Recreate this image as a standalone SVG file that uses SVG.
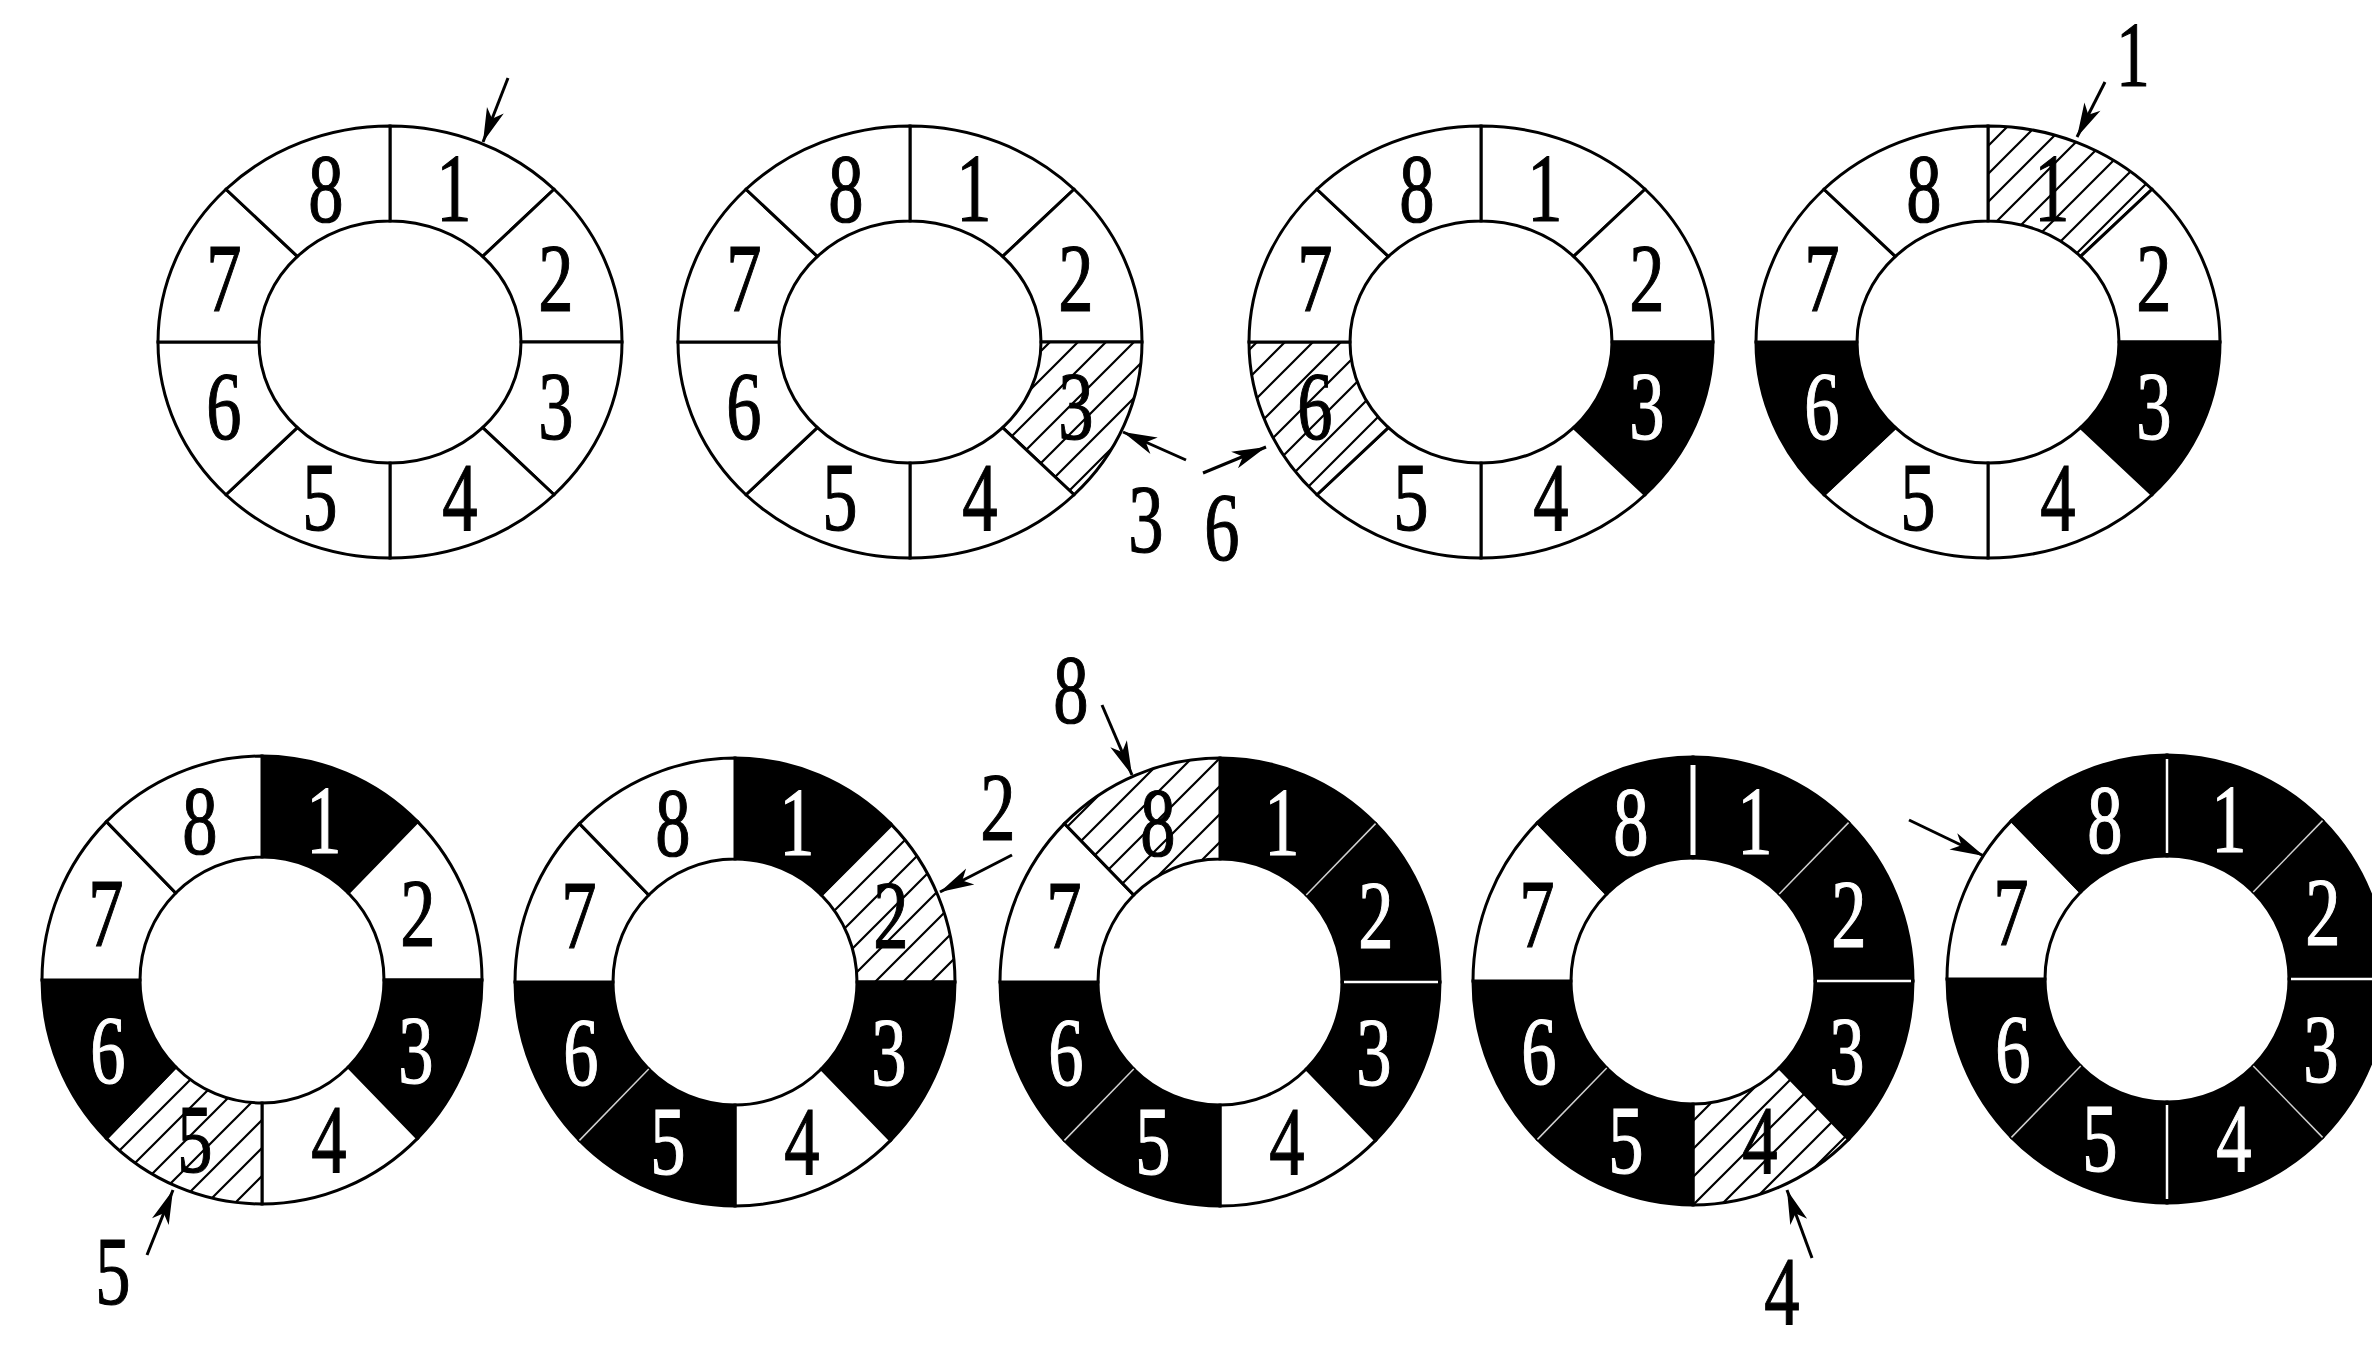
<svg xmlns="http://www.w3.org/2000/svg" xmlns:xlink="http://www.w3.org/1999/xlink" width="2372" height="1354" viewBox="0 0 2372 1354">
<style>
.w{fill:#fff;stroke:#000;stroke-width:3}
.k{fill:#000;stroke:#000;stroke-width:3}
.h{fill:url(#hatch);stroke:#000;stroke-width:3}
.d{font-family:"Liberation Serif","Times New Roman",serif;font-size:98px;text-anchor:middle;fill:#000;stroke:#000;stroke-width:1.2}
.dw{fill:#fff;stroke:#fff}
.sep{stroke:#fff;stroke-width:2.5}
.sepf{stroke:#d0d0d0;stroke-width:1.5}
.con{stroke:#000;stroke-width:3;fill:none;marker-end:url(#ah)}
</style>
<defs>
<pattern id="hatch" patternUnits="userSpaceOnUse" width="28" height="28">
<rect width="28" height="28" fill="#fff"/>
<path d="M-7,7 L7,-7 M0,28 L28,0 M21,35 L35,21" stroke="#000" stroke-width="2.2"/>
</pattern>
<marker id="ah" markerUnits="userSpaceOnUse" markerWidth="40" markerHeight="24" viewBox="0 0 40 24" refX="38" refY="12" orient="auto">
<path d="M38,12 L4,3 L13,12 L4,21 Z" fill="#000"/>
</marker>
<path id="t1" d="M0,-216 A232,216 0 0 1 164.05,-152.74 L92.63,-85.56 A131,121 0 0 0 0,-121 Z"/>
<path id="t2" d="M164.05,-152.74 A232,216 0 0 1 232,0 L131,0 A131,121 0 0 0 92.63,-85.56 Z"/>
<path id="t3" d="M232,0 A232,216 0 0 1 164.05,152.74 L92.63,85.56 A131,121 0 0 0 131,0 Z"/>
<path id="t4" d="M164.05,152.74 A232,216 0 0 1 0,216 L0,121 A131,121 0 0 0 92.63,85.56 Z"/>
<path id="t5" d="M0,216 A232,216 0 0 1 -164.05,152.74 L-92.63,85.56 A131,121 0 0 0 0,121 Z"/>
<path id="t6" d="M-164.05,152.74 A232,216 0 0 1 -232,0 L-131,0 A131,121 0 0 0 -92.63,85.56 Z"/>
<path id="t7" d="M-232,0 A232,216 0 0 1 -164.05,-152.74 L-92.63,-85.56 A131,121 0 0 0 -131,0 Z"/>
<path id="t8" d="M-164.05,-152.74 A232,216 0 0 1 0,-216 L0,-121 A131,121 0 0 0 -92.63,-85.56 Z"/>
<path id="b1" d="M0,-224 A220,224 0 0 1 155.56,-158.39 L86.27,-86.97 A122,123 0 0 0 0,-123 Z"/>
<path id="b2" d="M155.56,-158.39 A220,224 0 0 1 220,0 L122,0 A122,123 0 0 0 86.27,-86.97 Z"/>
<path id="b3" d="M220,0 A220,224 0 0 1 155.56,158.39 L86.27,86.97 A122,123 0 0 0 122,0 Z"/>
<path id="b4" d="M155.56,158.39 A220,224 0 0 1 0,224 L0,123 A122,123 0 0 0 86.27,86.97 Z"/>
<path id="b5" d="M0,224 A220,224 0 0 1 -155.56,158.39 L-86.27,86.97 A122,123 0 0 0 0,123 Z"/>
<path id="b6" d="M-155.56,158.39 A220,224 0 0 1 -220,0 L-122,0 A122,123 0 0 0 -86.27,86.97 Z"/>
<path id="b7" d="M-220,0 A220,224 0 0 1 -155.56,-158.39 L-86.27,-86.97 A122,123 0 0 0 -122,0 Z"/>
<path id="b8" d="M-155.56,-158.39 A220,224 0 0 1 0,-224 L0,-123 A122,123 0 0 0 -86.27,-86.97 Z"/>
</defs>
<rect width="2372" height="1354" fill="#fff"/>

<g id="ring1" transform="translate(390,342)">
<use href="#t1" class="w"/><use href="#t2" class="w"/><use href="#t3" class="w"/><use href="#t4" class="w"/>
<use href="#t5" class="w"/><use href="#t6" class="w"/><use href="#t7" class="w"/><use href="#t8" class="w"/>
<text class="d" transform="translate(64,-121) scale(0.72,1)">1</text>
<text class="d" transform="translate(166,-31) scale(0.72,1)">2</text>
<text class="d" transform="translate(166,97) scale(0.72,1)">3</text>
<text class="d" transform="translate(70,188) scale(0.72,1)">4</text>
<text class="d" transform="translate(-70,188) scale(0.72,1)">5</text>
<text class="d" transform="translate(-166,97) scale(0.72,1)">6</text>
<text class="d" transform="translate(-166,-31) scale(0.72,1)">7</text>
<text class="d" transform="translate(-64,-121) scale(0.72,1)">8</text>
</g>

<g id="ring2" transform="translate(910,342)">
<use href="#t1" class="w"/><use href="#t2" class="w"/><use href="#t3" class="h"/><use href="#t4" class="w"/>
<use href="#t5" class="w"/><use href="#t6" class="w"/><use href="#t7" class="w"/><use href="#t8" class="w"/>
<text class="d" transform="translate(64,-121) scale(0.72,1)">1</text>
<text class="d" transform="translate(166,-31) scale(0.72,1)">2</text>
<text class="d" transform="translate(166,97) scale(0.72,1)">3</text>
<text class="d" transform="translate(70,188) scale(0.72,1)">4</text>
<text class="d" transform="translate(-70,188) scale(0.72,1)">5</text>
<text class="d" transform="translate(-166,97) scale(0.72,1)">6</text>
<text class="d" transform="translate(-166,-31) scale(0.72,1)">7</text>
<text class="d" transform="translate(-64,-121) scale(0.72,1)">8</text>
</g>

<g id="ring3" transform="translate(1481,342)">
<use href="#t1" class="w"/><use href="#t2" class="w"/><use href="#t3" class="k"/><use href="#t4" class="w"/>
<use href="#t5" class="w"/><use href="#t6" class="h"/><use href="#t7" class="w"/><use href="#t8" class="w"/>
<text class="d" transform="translate(64,-121) scale(0.72,1)">1</text>
<text class="d" transform="translate(166,-31) scale(0.72,1)">2</text>
<text class="d dw" transform="translate(166,97) scale(0.72,1)">3</text>
<text class="d" transform="translate(70,188) scale(0.72,1)">4</text>
<text class="d" transform="translate(-70,188) scale(0.72,1)">5</text>
<text class="d" transform="translate(-166,97) scale(0.72,1)">6</text>
<text class="d" transform="translate(-166,-31) scale(0.72,1)">7</text>
<text class="d" transform="translate(-64,-121) scale(0.72,1)">8</text>
</g>

<g id="ring4" transform="translate(1988,342)">
<use href="#t1" class="h"/><use href="#t2" class="w"/><use href="#t3" class="k"/><use href="#t4" class="w"/>
<use href="#t5" class="w"/><use href="#t6" class="k"/><use href="#t7" class="w"/><use href="#t8" class="w"/>
<text class="d" transform="translate(64,-121) scale(0.72,1)">1</text>
<text class="d" transform="translate(166,-31) scale(0.72,1)">2</text>
<text class="d dw" transform="translate(166,97) scale(0.72,1)">3</text>
<text class="d" transform="translate(70,188) scale(0.72,1)">4</text>
<text class="d" transform="translate(-70,188) scale(0.72,1)">5</text>
<text class="d dw" transform="translate(-166,97) scale(0.72,1)">6</text>
<text class="d" transform="translate(-166,-31) scale(0.72,1)">7</text>
<text class="d" transform="translate(-64,-121) scale(0.72,1)">8</text>
</g>

<g id="ring5" transform="translate(262,980)">
<use href="#b1" class="k"/><use href="#b2" class="w"/><use href="#b3" class="k"/><use href="#b4" class="w"/>
<use href="#b5" class="h"/><use href="#b6" class="k"/><use href="#b7" class="w"/><use href="#b8" class="w"/>
<text class="d dw" transform="translate(62,-127) scale(0.72,1)">1</text>
<text class="d" transform="translate(156,-34) scale(0.72,1)">2</text>
<text class="d dw" transform="translate(154,103) scale(0.72,1)">3</text>
<text class="d" transform="translate(67,192) scale(0.72,1)">4</text>
<text class="d" transform="translate(-67,192) scale(0.72,1)">5</text>
<text class="d dw" transform="translate(-154,103) scale(0.72,1)">6</text>
<text class="d" transform="translate(-156,-34) scale(0.72,1)">7</text>
<text class="d" transform="translate(-62,-127) scale(0.72,1)">8</text>
</g>

<g id="ring6" transform="translate(735,982)">
<use href="#b1" class="k"/><use href="#b2" class="h"/><use href="#b3" class="k"/><use href="#b4" class="w"/>
<use href="#b5" class="k"/><use href="#b6" class="k"/><use href="#b7" class="w"/><use href="#b8" class="w"/>
<line class="sepf" x1="-86.27" y1="86.97" x2="-155.56" y2="158.39"/>
<text class="d dw" transform="translate(62,-127) scale(0.72,1)">1</text>
<text class="d" transform="translate(156,-34) scale(0.72,1)">2</text>
<text class="d dw" transform="translate(154,103) scale(0.72,1)">3</text>
<text class="d" transform="translate(67,192) scale(0.72,1)">4</text>
<text class="d dw" transform="translate(-67,192) scale(0.72,1)">5</text>
<text class="d dw" transform="translate(-154,103) scale(0.72,1)">6</text>
<text class="d" transform="translate(-156,-34) scale(0.72,1)">7</text>
<text class="d" transform="translate(-62,-127) scale(0.72,1)">8</text>
</g>

<g id="ring7" transform="translate(1220,982)">
<use href="#b1" class="k"/><use href="#b2" class="k"/><use href="#b3" class="k"/><use href="#b4" class="w"/>
<use href="#b5" class="k"/><use href="#b6" class="k"/><use href="#b7" class="w"/><use href="#b8" class="h"/>
<line class="sepf" x1="86.27" y1="-86.97" x2="155.56" y2="-158.39"/>
<line class="sep" x1="124" y1="0" x2="218" y2="0"/>
<line class="sepf" x1="-86.27" y1="86.97" x2="-155.56" y2="158.39"/>
<text class="d dw" transform="translate(62,-127) scale(0.72,1)">1</text>
<text class="d dw" transform="translate(156,-34) scale(0.72,1)">2</text>
<text class="d dw" transform="translate(154,103) scale(0.72,1)">3</text>
<text class="d" transform="translate(67,192) scale(0.72,1)">4</text>
<text class="d dw" transform="translate(-67,192) scale(0.72,1)">5</text>
<text class="d dw" transform="translate(-154,103) scale(0.72,1)">6</text>
<text class="d" transform="translate(-156,-34) scale(0.72,1)">7</text>
<text class="d" transform="translate(-62,-127) scale(0.72,1)">8</text>
</g>

<g id="ring8" transform="translate(1693,981)">
<use href="#b1" class="k"/><use href="#b2" class="k"/><use href="#b3" class="k"/><use href="#b4" class="h"/>
<use href="#b5" class="k"/><use href="#b6" class="k"/><use href="#b7" class="w"/><use href="#b8" class="k"/>
<line class="sep" style="stroke-width:5" x1="0" y1="-126" x2="0" y2="-216"/>
<line class="sepf" x1="86.27" y1="-86.97" x2="155.56" y2="-158.39"/>
<line class="sep" x1="124" y1="0" x2="218" y2="0"/>
<line class="sepf" x1="-86.27" y1="86.97" x2="-155.56" y2="158.39"/>
<text class="d dw" transform="translate(62,-127) scale(0.72,1)">1</text>
<text class="d dw" transform="translate(156,-34) scale(0.72,1)">2</text>
<text class="d dw" transform="translate(154,103) scale(0.72,1)">3</text>
<text class="d" transform="translate(67,192) scale(0.72,1)">4</text>
<text class="d dw" transform="translate(-67,192) scale(0.72,1)">5</text>
<text class="d dw" transform="translate(-154,103) scale(0.72,1)">6</text>
<text class="d" transform="translate(-156,-34) scale(0.72,1)">7</text>
<text class="d dw" transform="translate(-62,-127) scale(0.72,1)">8</text>
</g>

<g id="ring9" transform="translate(2167,979)">
<use href="#b1" class="k"/><use href="#b2" class="k"/><use href="#b3" class="k"/><use href="#b4" class="k"/>
<use href="#b5" class="k"/><use href="#b6" class="k"/><use href="#b7" class="w"/><use href="#b8" class="k"/>
<line class="sep" x1="0" y1="-126" x2="0" y2="-220"/>
<line class="sepf" x1="86.27" y1="-86.97" x2="155.56" y2="-158.39"/>
<line class="sep" x1="124" y1="0" x2="218" y2="0"/>
<line class="sepf" x1="86.27" y1="86.97" x2="155.56" y2="158.39"/>
<line class="sep" x1="0" y1="126" x2="0" y2="220"/>
<line class="sepf" x1="-86.27" y1="86.97" x2="-155.56" y2="158.39"/>
<text class="d dw" transform="translate(62,-127) scale(0.72,1)">1</text>
<text class="d dw" transform="translate(156,-34) scale(0.72,1)">2</text>
<text class="d dw" transform="translate(154,103) scale(0.72,1)">3</text>
<text class="d dw" transform="translate(67,192) scale(0.72,1)">4</text>
<text class="d dw" transform="translate(-67,192) scale(0.72,1)">5</text>
<text class="d dw" transform="translate(-154,103) scale(0.72,1)">6</text>
<text class="d" transform="translate(-156,-34) scale(0.72,1)">7</text>
<text class="d dw" transform="translate(-62,-127) scale(0.72,1)">8</text>
</g>

<g id="connectors">
<line class="con" x1="508" y1="78" x2="483" y2="142"/>
<line class="con" x1="1186" y1="460" x2="1123" y2="432"/>
<line class="con" x1="1203" y1="473" x2="1266" y2="447"/>
<line class="con" x1="2105" y1="82" x2="2077" y2="137"/>
<line class="con" x1="147" y1="1255" x2="173" y2="1190"/>
<line class="con" x1="1012" y1="855" x2="940" y2="892"/>
<line class="con" x1="1102" y1="705" x2="1132" y2="775"/>
<line class="con" x1="1812" y1="1258" x2="1787" y2="1190"/>
<line class="con" x1="1909" y1="820" x2="1984" y2="856"/>
</g>

<g id="labels">
<text class="d" transform="translate(1146,552) scale(0.72,1)">3</text>
<text class="d" transform="translate(1222,560) scale(0.72,1)">6</text>
<text class="d" style="font-size:94px" transform="translate(2133,86) scale(0.72,1)">1</text>
<text class="d" transform="translate(113,1304) scale(0.72,1)">5</text>
<text class="d" transform="translate(998,840) scale(0.72,1)">2</text>
<text class="d" transform="translate(1071,722) scale(0.72,1)">8</text>
<text class="d" transform="translate(1782,1324) scale(0.72,1)">4</text>
</g>
</svg>
